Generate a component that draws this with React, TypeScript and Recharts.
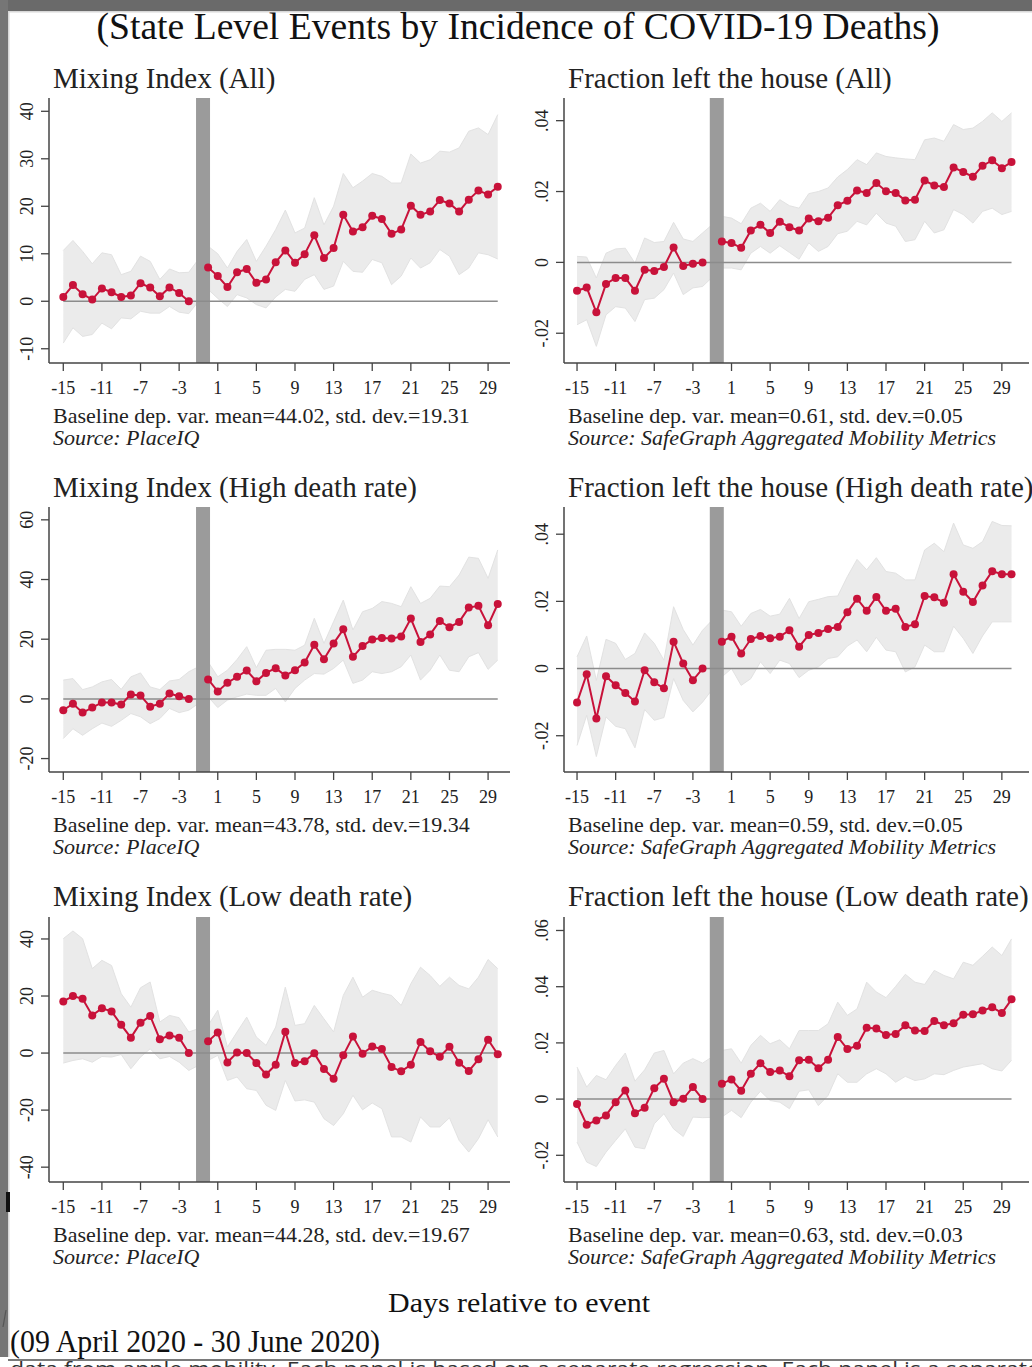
import React from "react";
import {
  ComposedChart, Area, Line, XAxis, YAxis, ReferenceArea, ReferenceLine,
} from "recharts";

// event-time axis: day -1 is the omitted reference day
const days = [
  -15, -14, -13, -12, -11, -10, -9, -8, -7, -6, -5, -4, -3, -2,
  0, 1, 2, 3, 4, 5, 6, 7, 8, 9, 10, 11, 12, 13, 14, 15, 16, 17, 18, 19, 20,
  21, 22, 23, 24, 25, 26, 27, 28, 29, 30,
];
const xTicks = [-15, -11, -7, -3, 1, 5, 9, 13, 17, 21, 25, 29];

// Mixing index, all states
const mixAllEst = [0.9, 3.4, 1.5, 0.35, 2.7, 1.9, 0.9, 1.2, 3.8, 2.9, 1.05, 2.9, 1.75, 0,
  7.1, 5.3, 3.0, 6.1, 6.8, 3.9, 4.6, 8.2, 10.7, 8.1, 9.9, 13.9, 9.1, 11.2, 18.2, 14.7, 15.6, 18.0, 17.3, 14.2, 15.1,
  20.1, 18.2, 18.9, 21.3, 20.6, 18.9, 21.4, 23.3, 22.5, 24.1];
const mixAllHi = [10.7, 12.8, 10.5, 7.9, 10.2, 9.8, 5.6, 6.3, 9.5, 8.4, 4.6, 6.8, 6.0, 6.1,
  11.6, 10.0, 7.0, 10.5, 13.0, 8.4, 11.6, 15.1, 19.2, 14.4, 15.4, 21.8, 16.1, 20.0, 26.9, 23.9, 25.3, 26.9, 26.3, 24.9, 24.9,
  31.0, 29.1, 29.8, 31.6, 31.4, 32.3, 35.8, 36.5, 35.1, 39.3];
const mixAllLo = [-8.8, -5.6, -7.4, -7.0, -4.6, -5.8, -3.5, -3.7, -2.1, -2.5, -2.5, -1.1, -2.3, -2.6,
  2.5, 0.6, -1.1, 1.4, 0.7, -0.7, -1.4, 0.9, 2.5, 2.1, 4.6, 5.6, 2.5, 3.2, 8.4, 6.3, 6.1, 8.8, 8.1, 3.5, 5.3,
  9.1, 7.0, 8.1, 10.9, 9.5, 5.6, 7.0, 10.2, 9.8, 8.9];

// Fraction left the house, all states
const fracAllEst = [-0.008, -0.0071, -0.0141, -0.0061, -0.0044, -0.0044, -0.008, -0.0021, -0.0024, -0.0013, 0.0042, -0.001, -0.0004, 0,
  0.0059, 0.0055, 0.0041, 0.009, 0.0106, 0.0083, 0.0115, 0.0099, 0.009, 0.0124, 0.0116, 0.0126, 0.0161, 0.0174, 0.0203, 0.0196, 0.0224, 0.0201, 0.0196, 0.0175, 0.0177,
  0.0231, 0.0217, 0.0213, 0.0268, 0.0255, 0.0242, 0.0273, 0.0288, 0.0266, 0.0283];
const fracAllHi = [0.0017, 0.0015, -0.0044, 0.0026, 0.0038, 0.004, -0.0002, 0.0069, 0.0056, 0.0059, 0.0113, 0.0066, 0.0059, 0.0083,
  0.013, 0.0125, 0.0109, 0.0153, 0.0167, 0.0144, 0.0177, 0.016, 0.0153, 0.0194, 0.02, 0.021, 0.0241, 0.0262, 0.029, 0.0276, 0.0309, 0.0299, 0.0295, 0.0292, 0.029,
  0.0346, 0.0351, 0.0342, 0.0389, 0.0375, 0.0379, 0.0398, 0.0422, 0.0398, 0.0422];
const fracAllLo = [-0.0176, -0.0162, -0.0237, -0.0148, -0.0125, -0.0129, -0.0167, -0.0105, -0.0101, -0.0077, -0.003, -0.0091, -0.0072, -0.0068,
  -0.0016, -0.0016, -0.0021, 0.0026, 0.0045, 0.0026, 0.0047, 0.0028, 0.0009, 0.0055, 0.0031, 0.0045, 0.0081, 0.0088, 0.0116, 0.0106, 0.0139, 0.0111, 0.0102, 0.0059, 0.0064,
  0.0116, 0.0083, 0.0092, 0.0149, 0.0135, 0.0111, 0.0144, 0.0153, 0.0135, 0.0144];

// Mixing index, high death rate states
const mixHighEst = [-3.8, -1.6, -4.6, -2.9, -1.2, -1.2, -1.9, 1.5, 1.1, -2.6, -1.6, 1.8, 0.9, 0,
  6.5, 2.5, 5.4, 7.4, 9.5, 5.9, 8.7, 10.3, 7.8, 9.6, 12.2, 18.1, 13.3, 18.6, 23.3, 14.1, 17.7, 19.9, 20.4, 20.2, 20.9,
  26.9, 19.1, 21.6, 26.1, 24.0, 25.8, 30.6, 31.2, 24.7, 31.8];
const mixHighHi = [6.3, 6.8, 3.1, 4.0, 5.7, 6.5, 3.2, 7.4, 8.7, 4.0, 3.1, 6.0, 6.5, 9.1,
  12.4, 7.4, 9.6, 13.2, 17.5, 10.5, 16.3, 16.6, 16.6, 16.3, 18.0, 27.0, 18.6, 25.9, 33.1, 23.1, 29.2, 30.3, 32.6, 32.0, 30.9,
  37.6, 32.0, 33.7, 37.8, 37.6, 41.5, 47.5, 47.1, 40.4, 49.9];
const mixHighLo = [-13.3, -10.0, -12.2, -10.0, -8.1, -9.2, -7.2, -4.9, -6.0, -8.3, -6.6, -3.2, -4.6, -3.8,
  0.7, -2.9, -0.4, 0.7, 1.6, 1.2, 1.2, 3.5, -1.0, 3.5, 6.3, 8.5, 8.3, 10.2, 13.0, 5.2, 6.3, 9.1, 8.5, 9.1, 10.8,
  14.7, 6.3, 9.6, 14.7, 9.6, 9.1, 14.1, 15.5, 9.9, 13.0];

// Fraction left the house, high death rate states
const fracHighEst = [-0.0101, -0.0017, -0.0149, -0.0023, -0.005, -0.0073, -0.0098, -0.0005, -0.0041, -0.0059, 0.008, 0.0015, -0.0035, 0,
  0.008, 0.0095, 0.0045, 0.0088, 0.0097, 0.009, 0.0095, 0.0114, 0.0065, 0.01, 0.0106, 0.0118, 0.0124, 0.0168, 0.0208, 0.0172, 0.0213, 0.0172, 0.0178, 0.0124, 0.0132,
  0.0216, 0.0212, 0.0196, 0.0281, 0.0229, 0.0198, 0.0247, 0.029, 0.0281, 0.0281];
const fracHighHi = [0.0035, 0.0097, -0.0035, 0.0087, 0.0075, 0.0027, 0.0045, 0.0106, 0.0075, 0.0025, 0.0184, 0.0116, 0.007, 0.0114,
  0.0174, 0.0169, 0.0126, 0.0164, 0.0176, 0.0156, 0.0162, 0.0209, 0.0149, 0.0199, 0.0206, 0.0214, 0.0216, 0.0274, 0.0325, 0.0294, 0.033, 0.0289, 0.0284, 0.0264, 0.0264,
  0.0353, 0.0373, 0.0348, 0.0433, 0.0368, 0.0358, 0.0378, 0.0438, 0.0426, 0.0425];
const fracHighLo = [-0.0229, -0.0139, -0.0262, -0.0144, -0.0172, -0.0179, -0.0236, -0.0122, -0.0154, -0.0146, -0.003, -0.0095, -0.0129, -0.01,
  -0.0025, 0, -0.005, -0.003, 0.002, -0.0015, 0.0025, 0.0015, -0.0027, -0.0005, 0.0005, 0.003, 0.0035, 0.0067, 0.0085, 0.005, 0.0093, 0.0055, 0.005, -0.001, 0.0005,
  0.007, 0.005, 0.005, 0.0126, 0.009, 0.0045, 0.0097, 0.0139, 0.0139, 0.0139];

// Mixing index, low death rate states
const mixLowEst = [18.1, 20.0, 19.0, 13.2, 15.7, 14.6, 9.9, 5.4, 10.6, 13.0, 4.8, 6.2, 5.4, 0,
  4.1, 7.2, -3.3, 0.2, 0, -3.5, -7.5, -4.1, 7.5, -3.5, -2.9, -0.1, -5.6, -9.0, -0.8, 5.8, -0.2, 2.3, 1.4, -4.9, -6.4,
  -4.1, 3.9, 0.6, -1.3, 2.2, -3.4, -6.3, -2.2, 4.7, -0.4];
const mixLowHi = [40.1, 42.8, 40.1, 29.6, 32.5, 30.7, 20.8, 16.1, 22.9, 24.9, 10.9, 13.2, 12.4, 7.4,
  9.7, 15.0, 2.1, 7.4, 12.6, 5.6, 2.7, 9.1, 23.1, 9.7, 10.3, 16.7, 12.0, 7.4, 20.2, 26.6, 19.6, 22.0, 21.0, 20.2, 16.7,
  24.3, 30.1, 27.2, 23.4, 26.6, 23.7, 22.5, 26.6, 32.8, 29.6];
const mixLowLo = [-3.5, -2.6, -2.0, -3.2, -1.2, -1.4, -0.5, -5.5, -1.4, 1.5, -2.0, -1.2, -3.2, -6.1,
  -2.6, -0.8, -9.6, -8.4, -12.5, -13.1, -18.3, -20.1, -9.6, -16.8, -16.4, -17.2, -23.0, -25.4, -21.3, -14.8, -19.9, -17.5, -19.5, -29.4, -29.4,
  -31.2, -22.4, -25.9, -25.9, -22.7, -30.6, -34.7, -30.0, -23.4, -29.4];

// Fraction left the house, low death rate states
const fracLowEst = [-0.0017, -0.0091, -0.0076, -0.0058, -0.0011, 0.0031, -0.005, -0.0031, 0.0039, 0.0072, -0.0011, 0.0001, 0.0043, 0,
  0.0055, 0.007, 0.003, 0.009, 0.0128, 0.0096, 0.0102, 0.0081, 0.0138, 0.014, 0.011, 0.014, 0.0221, 0.0178, 0.019, 0.0254, 0.0251, 0.0228, 0.0232, 0.0263, 0.0244,
  0.0242, 0.0278, 0.0263, 0.027, 0.03, 0.0302, 0.0315, 0.0327, 0.0306, 0.0355];
const fracLowHi = [0.0114, 0.0043, 0.0084, 0.0069, 0.012, 0.0164, 0.0064, 0.0104, 0.0164, 0.0173, 0.009, 0.0128, 0.0144, 0.0128,
  0.0173, 0.0179, 0.0128, 0.0191, 0.0227, 0.0197, 0.0211, 0.0179, 0.0244, 0.0244, 0.0244, 0.0268, 0.0345, 0.0298, 0.0321, 0.0416, 0.0381, 0.0361, 0.0401, 0.0444, 0.0416,
  0.0408, 0.0458, 0.044, 0.0428, 0.0487, 0.0476, 0.0508, 0.0541, 0.0511, 0.057];
const fracLowLo = [-0.0153, -0.0224, -0.024, -0.0189, -0.0147, -0.0106, -0.0171, -0.0177, -0.0088, -0.0052, -0.0106, -0.0133, -0.0064, -0.0066,
  -0.0064, -0.004, -0.0066, -0.0011, 0.0028, -0.0005, -0.0011, -0.0034, 0.0028, 0.0033, -0.0023, 0.0013, 0.009, 0.006, 0.006, 0.009, 0.0108, 0.009, 0.006, 0.0081, 0.0066,
  0.0072, 0.009, 0.0087, 0.0102, 0.0114, 0.012, 0.0126, 0.0108, 0.01, 0.0138];

const FONT = '"Liberation Serif", "Times New Roman", serif';
const RED = "#c8123a";
const INK = "#222";

const fmtNum = (v: number) => String(v);
const fmtFrac = (v: number) => (v === 0 ? "0" : v.toFixed(2).replace("0.", "."));

// column / row placement of the six plot regions (page pixels)
const cols = [
  { plotLeft: 49, plotW: 461, xDomain: [-16.48, 31.27], textX: 53 },
  { plotLeft: 564, plotW: 465, xDomain: [-16.35, 31.81], textX: 568 },
];
const rows = [
  { plotTop: 98, titleY: 88, noteY: 423, srcY: 445 },
  { plotTop: 507, titleY: 497, noteY: 832, srcY: 854 },
  { plotTop: 917, titleY: 906, noteY: 1242, srcY: 1264 },
];
const PLOT_H = 265;
const YW = 50;
const XH = 45;

const panels = [
  { col: 0, row: 0, title: "Mixing Index (All)", est: mixAllEst, lo: mixAllLo, hi: mixAllHi,
    yDomain: [-13, 42.8], yTicks: [-10, 0, 10, 20, 30, 40], fmt: fmtNum,
    note: "Baseline dep. var. mean=44.02, std. dev.=19.31", source: "PlaceIQ" },
  { col: 1, row: 0, title: "Fraction left the house (All)", est: fracAllEst, lo: fracAllLo, hi: fracAllHi,
    yDomain: [-0.0284, 0.0464], yTicks: [-0.02, 0, 0.02, 0.04], fmt: fmtFrac,
    note: "Baseline dep. var. mean=0.61, std. dev.=0.05", source: "SafeGraph Aggregated Mobility Metrics" },
  { col: 0, row: 1, title: "Mixing Index (High death rate)", est: mixHighEst, lo: mixHighLo, hi: mixHighHi,
    yDomain: [-24.5, 64.3], yTicks: [-20, 0, 20, 40, 60], fmt: fmtNum,
    note: "Baseline dep. var. mean=43.78, std. dev.=19.34", source: "PlaceIQ" },
  { col: 1, row: 1, title: "Fraction left the house (High death rate)", est: fracHighEst, lo: fracHighLo, hi: fracHighHi,
    yDomain: [-0.0308, 0.0481], yTicks: [-0.02, 0, 0.02, 0.04], fmt: fmtFrac,
    note: "Baseline dep. var. mean=0.59, std. dev.=0.05", source: "SafeGraph Aggregated Mobility Metrics" },
  { col: 0, row: 2, title: "Mixing Index (Low death rate)", est: mixLowEst, lo: mixLowLo, hi: mixLowHi,
    yDomain: [-45.2, 47.7], yTicks: [-40, -20, 0, 20, 40], fmt: fmtNum,
    note: "Baseline dep. var. mean=44.28, std. dev.=19.67", source: "PlaceIQ" },
  { col: 1, row: 2, title: "Fraction left the house (Low death rate)", est: fracLowEst, lo: fracLowLo, hi: fracLowHi,
    yDomain: [-0.0295, 0.0648], yTicks: [-0.02, 0, 0.02, 0.04, 0.06], fmt: fmtFrac,
    note: "Baseline dep. var. mean=0.63, std. dev.=0.03", source: "SafeGraph Aggregated Mobility Metrics" },
];

type PanelDef = (typeof panels)[number];

function EventPanel({ p }: { p: PanelDef }) {
  const c = cols[p.col];
  const r = rows[p.row];
  const data = days.map((d, i) => ({
    day: d,
    pre: d < 0 ? p.est[i] : null,
    post: d >= 0 ? p.est[i] : null,
    band: [p.lo[i], p.hi[i]],
  }));

  const xTick = (props: any) => (
    <text x={props.x} y={PLOT_H + 31} textAnchor="middle" fontFamily={FONT} fontSize={18} fill={INK}>
      {props.payload.value}
    </text>
  );
  const yTick = (props: any) => {
    const bx = YW - 16;
    return (
      <text x={bx} y={props.y} transform={`rotate(-90, ${bx}, ${props.y})`} textAnchor="middle"
        fontFamily={FONT} fontSize={18} fill={INK}>
        {p.fmt(props.payload.value)}
      </text>
    );
  };

  return (
    <div style={{ position: "absolute", left: c.plotLeft - YW, top: r.plotTop }}>
      <ComposedChart width={c.plotW + YW} height={PLOT_H + XH} data={data}
        margin={{ top: 0, right: 0, bottom: 0, left: 0 }}>
        <XAxis type="number" dataKey="day" domain={c.xDomain} ticks={xTicks} interval={0}
          allowDataOverflow height={XH} tickSize={8} tick={xTick}
          axisLine={{ stroke: "#444", strokeWidth: 1.5 }} tickLine={{ stroke: "#444", strokeWidth: 1.3 }} />
        <YAxis type="number" domain={p.yDomain} ticks={p.yTicks} interval={0} allowDataOverflow
          width={YW} tickSize={8} tick={yTick}
          axisLine={{ stroke: "#444", strokeWidth: 1.5 }} tickLine={{ stroke: "#444", strokeWidth: 1.3 }} />
        <Area dataKey="band" type="linear" fill="#ebebeb" fillOpacity={1} stroke="#e2e2e2"
          strokeWidth={1} isAnimationActive={false} dot={false} activeDot={false} />
        <ReferenceLine segment={[{ x: -15, y: 0 }, { x: 30, y: 0 }]} stroke="#8c8c8c" strokeWidth={1.5} />
        <ReferenceArea x1={-1.25} x2={0.2} fill="#9b9b9b" fillOpacity={1} stroke="none" />
        <Line dataKey="pre" type="linear" stroke={RED} strokeWidth={2} isAnimationActive={false}
          dot={{ r: 4, fill: RED, stroke: RED, strokeWidth: 0 }} activeDot={false} connectNulls={false} />
        <Line dataKey="post" type="linear" stroke={RED} strokeWidth={2} isAnimationActive={false}
          dot={{ r: 4, fill: RED, stroke: RED, strokeWidth: 0 }} activeDot={false} connectNulls={false} />
      </ComposedChart>
    </div>
  );
}

export default function App() {
  return (
    <div style={{ position: "absolute", left: 0, top: 0, width: 1032, height: 1367, overflow: "hidden", background: "#fff" }}>
      {panels.map((p) => <EventPanel key={p.title} p={p} />)}

      <svg width={1032} height={1367} style={{ position: "absolute", left: 0, top: 0, pointerEvents: "none" }}>
        {/* page frame */}
        <rect x={0} y={0} width={1032} height={11} fill="#6a6a6a" />
        <rect x={0} y={0} width={8} height={1357} fill="#767676" />
        <rect x={8} y={11} width={1024} height={1.5} fill="#d8d8d8" />
        <rect x={8} y={11} width={1.5} height={1346} fill="#d8d8d8" />
        <rect x={6} y={1192} width={4} height={20} fill="#111" />
        <line x1={6} y1={1310} x2={3} y2={1327} stroke="#555" strokeWidth={1.2} />

        <text x={518} y={39} textAnchor="middle" fontFamily={FONT} fontSize={38} fill="#111"
          textLength={843} lengthAdjust="spacingAndGlyphs">
          (State Level Events by Incidence of COVID-19 Deaths)
        </text>

        {panels.map((p) => {
          const c = cols[p.col];
          const r = rows[p.row];
          return (
            <g key={p.title}>
              <text x={c.textX} y={r.titleY} fontFamily={FONT} fontSize={29} fill={INK}>{p.title}</text>
              <text x={c.textX} y={r.noteY} fontFamily={FONT} fontSize={22} fill={INK}>{p.note}</text>
              <text x={c.textX} y={r.srcY} fontFamily={FONT} fontSize={22} fill={INK} fontStyle="italic">
                {"Source: " + p.source}
              </text>
            </g>
          );
        })}

        <text x={519} y={1312} textAnchor="middle" fontFamily={FONT} fontSize={28} fill="#111"
          textLength={262} lengthAdjust="spacingAndGlyphs">
          Days relative to event
        </text>
        <text x={10} y={1352} fontFamily={FONT} fontSize={32} fill="#111"
          textLength={370} lengthAdjust="spacingAndGlyphs">
          (09 April 2020 - 30 June 2020)
        </text>

        <rect x={8} y={1359} width={1024} height={2} fill="#7a7a7a" />
        <text x={10} y={1376} fontFamily='"Open Sans", sans-serif' fontSize={20} fill="#333"
          textLength={1030} lengthAdjust="spacingAndGlyphs">
          data from apple mobility. Each panel is based on a separate regression. Each panel is a separate
        </text>
      </svg>
    </div>
  );
}
